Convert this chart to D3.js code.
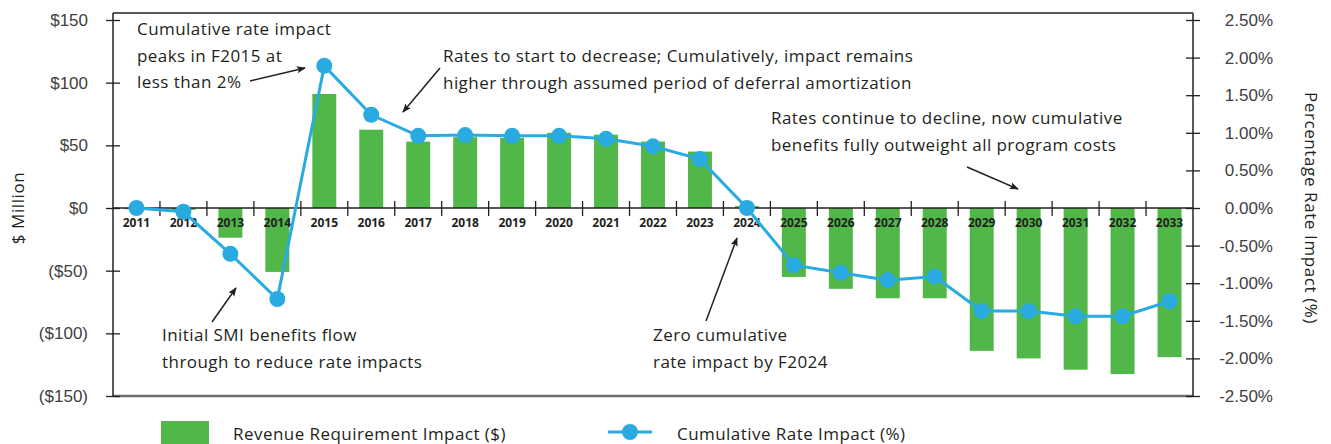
<!DOCTYPE html>
<html>
<head>
<meta charset="utf-8">
<script src="https://cdn.jsdelivr.net/npm/d3@7"></script>
<style>
  body { margin: 0; background: #fff; }
  svg { display: block; font-family: "Open Sans", Roboto, sans-serif; }
  .axis path { display: none; }
  .axis line { stroke: #231f20; stroke-width: 1.3; }
  .axis text { fill: #414042; font-size: 17px; }
  .note { fill: #231f20; font-size: 17px; letter-spacing: 0.45px; }
  .title { fill: #231f20; font-size: 17px; letter-spacing: 0.6px; }
</style>
</head>
<body>
<svg class="chart" width="1331" height="444"></svg>
<script>
// fiscal years
const years = ['2011', '2012', '2013', '2014', '2015', '2016', '2017', '2018', '2019', '2020', '2021', '2022',
    '2023', '2024', '2025', '2026', '2027', '2028', '2029', '2030', '2031', '2032', '2033'];
// Revenue Requirement Impact ($ million)
const revenueImpact = [-1, -1.5, -23.7, -51, 91, 62.5, 53, 56.5, 56, 60, 58.5, 53,
    45, 1.5, -55, -64.5, -72, -72, -114, -120, -129, -132.5, -119];
// Cumulative Rate Impact (%)
const rateImpact = [0, -0.05, -0.61, -1.21, 1.89, 1.24, 0.96, 0.97, 0.96, 0.96, 0.92, 0.82,
    0.65, 0, -0.76, -0.86, -0.96, -0.91, -1.37, -1.37, -1.44, -1.44, -1.24];
const dollarTicks = [150, 100, 50, 0, -50, -100, -150];
const pctTicks = [2.5, 2, 1.5, 1, 0.5, 0, -0.5, -1, -1.5, -2, -2.5];

const notes = [
    { lines: ['Cumulative rate impact', 'peaks in F2015 at', 'less than 2%'], x: 137, y: 35, arrow: [250, 81, 305, 68] },
    { lines: ['Rates to start to decrease; Cumulatively, impact remains', 'higher through assumed period of deferral amortization'], x: 443, y: 62, arrow: [440, 68, 403, 112] },
    { lines: ['Rates continue to decline, now cumulative', 'benefits fully outweight all program costs'], x: 771, y: 124, arrow: [967, 167, 1018, 189] },
    { lines: ['Initial SMI benefits flow', 'through to reduce rate impacts'], x: 162, y: 341, arrow: [212, 322, 236, 288] },
    { lines: ['Zero cumulative', 'rate impact by F2024'], x: 653, y: 341, arrow: [706, 321, 737, 238] }
];

const svg = d3.select('svg.chart');
const plotLeft = 113, plotRight = 1193, plotTop = 13, plotBottom = 396;
const green = '#50b748', blue = '#29abe2';

const x = d3.scaleBand().domain(years).range([plotLeft, plotRight]).paddingInner(0.49).paddingOuter(0.245);
const xb = d3.scaleBand().domain(years).range([plotLeft, plotRight]);
const y = d3.scaleLinear().domain([-150, 150]).range([plotBottom, 20]);
const y2 = d3.scaleLinear().domain([-2.5, 2.5]).range([plotBottom, 20]);

svg.append('defs').append('marker')
    .attr('id', 'arrow')
    .attr('viewBox', '0 0 10 10')
    .attr('refX', 9).attr('refY', 5)
    .attr('markerWidth', 9).attr('markerHeight', 9)
    .attr('markerUnits', 'userSpaceOnUse')
    .attr('orient', 'auto')
    .append('path').attr('d', 'M0,1 L10,5 L0,9 L2,5 Z').attr('fill', '#231f20');

// bars
svg.append('g')
    .selectAll('rect')
    .data(years)
    .join('rect')
    .attr('x', (d) => x(d))
    .attr('width', x.bandwidth())
    .attr('y', (d, i) => y(Math.max(0, revenueImpact[i])))
    .attr('height', (d, i) => Math.abs(y(revenueImpact[i]) - y(0)))
    .attr('fill', green);

// frame
svg.append('line').attr('x1', plotLeft).attr('x2', plotRight).attr('y1', plotTop).attr('y2', plotTop)
    .attr('stroke', '#231f20').attr('stroke-width', 1.3);
svg.append('line').attr('x1', plotLeft).attr('x2', plotRight).attr('y1', plotBottom).attr('y2', plotBottom)
    .attr('stroke', '#6d6e71').attr('stroke-width', 2.5);
svg.append('line').attr('x1', plotLeft).attr('x2', plotLeft).attr('y1', plotTop).attr('y2', plotBottom)
    .attr('stroke', '#231f20').attr('stroke-width', 1.5);
svg.append('line').attr('x1', plotRight).attr('x2', plotRight).attr('y1', plotTop).attr('y2', plotBottom)
    .attr('stroke', '#231f20').attr('stroke-width', 1.5);

// zero line with category ticks
svg.append('line').attr('x1', plotLeft).attr('x2', plotRight).attr('y1', y(0)).attr('y2', y(0))
    .attr('stroke', '#231f20').attr('stroke-width', 1.5);
svg.append('g')
    .selectAll('line')
    .data(years.slice(1))
    .join('line')
    .attr('x1', (d) => xb(d)).attr('x2', (d) => xb(d))
    .attr('y1', y(0) - 7).attr('y2', y(0) + 8)
    .attr('stroke', '#231f20').attr('stroke-width', 1.3);
svg.append('g')
    .selectAll('text')
    .data(years)
    .join('text')
    .attr('x', (d) => xb(d) + xb.bandwidth() / 2)
    .attr('y', y(0) + 19)
    .attr('text-anchor', 'middle')
    .attr('font-size', 12)
    .attr('font-weight', 'bold')
    .attr('fill', '#231f20')
    .text((d) => d);

// left axis
const fmtDollar = (v) => (v < 0 ? '($' + Math.abs(v) + ')' : '$' + v);
const ga = svg.append('g').attr('class', 'axis')
    .attr('transform', `translate(${plotLeft},0)`)
    .call(d3.axisLeft(y).tickValues(dollarTicks).tickFormat(fmtDollar).tickSize(7).tickPadding(18));
ga.selectAll('.tick line').attr('x2', 7).attr('x1', -7);

// right axis
const gb = svg.append('g').attr('class', 'axis')
    .attr('transform', `translate(${plotRight},0)`)
    .call(d3.axisRight(y2).tickValues(pctTicks).tickFormat((v) => v.toFixed(2) + '%').tickSize(7).tickPadding(0));
gb.selectAll('.tick line').attr('x1', -7).attr('x2', 7);
gb.selectAll('.tick text').attr('text-anchor', 'end').attr('x', 80);

// axis titles
svg.append('text')
    .attr('class', 'title')
    .attr('transform', `translate(24,${y(0)}) rotate(-90)`)
    .attr('text-anchor', 'middle')
    .text('$ Million');
svg.append('text')
    .attr('class', 'title')
    .attr('transform', `translate(1305,${y(0)}) rotate(90)`)
    .attr('text-anchor', 'middle')
    .text('Percentage Rate Impact (%)');

// rate line
const cx = (i) => xb(years[i]) + xb.bandwidth() / 2;
svg.append('path')
    .datum(rateImpact)
    .attr('fill', 'none')
    .attr('stroke', blue)
    .attr('stroke-width', 3)
    .attr('d', d3.line().x((d, i) => cx(i)).y((d) => y2(d)));
svg.append('g')
    .selectAll('circle')
    .data(rateImpact)
    .join('circle')
    .attr('cx', (d, i) => cx(i))
    .attr('cy', (d) => y2(d))
    .attr('r', 8)
    .attr('fill', blue);

// annotations
notes.forEach((n) => {
    const t = svg.append('text').attr('class', 'note').attr('x', n.x).attr('y', n.y);
    n.lines.forEach((l, i) => {
        t.append('tspan').attr('x', n.x).attr('dy', i === 0 ? 0 : 26.5).text(l);
    });
    svg.append('line')
        .attr('x1', n.arrow[0]).attr('y1', n.arrow[1])
        .attr('x2', n.arrow[2]).attr('y2', n.arrow[3])
        .attr('stroke', '#231f20').attr('stroke-width', 1.5)
        .attr('marker-end', 'url(#arrow)');
});

// legend
const legend = svg.append('g').attr('class', 'note');
legend.append('rect').attr('x', 161).attr('y', 421).attr('width', 48).attr('height', 23).attr('fill', green);
legend.append('text').attr('x', 233).attr('y', 440).text('Revenue Requirement Impact ($)');
legend.append('line').attr('x1', 608).attr('x2', 652).attr('y1', 432).attr('y2', 432)
    .attr('stroke', blue).attr('stroke-width', 3);
legend.append('circle').attr('cx', 630).attr('cy', 432).attr('r', 8).attr('fill', blue);
legend.append('text').attr('x', 677).attr('y', 440).text('Cumulative Rate Impact (%)');
</script>
</body>
</html>
